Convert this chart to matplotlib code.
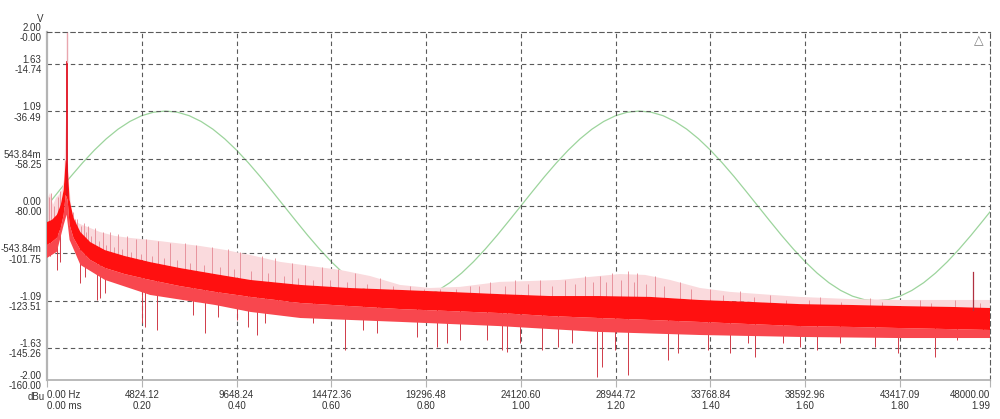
import numpy as np
import matplotlib.pyplot as plt

plt.rcParams['font.family'] = ['Liberation Sans', 'DejaVu Sans']

# ---- axis scales (as shown on the analyser) ----
hz_ticks = [0.0, 4824.12, 9648.24, 14472.36, 19296.48, 24120.60,
            28944.72, 33768.84, 38592.96, 43417.09, 48000.00]
hz_labels = ['0.00 Hz', '4824.12', '9648.24', '14472.36', '19296.48', '24120.60',
             '28944.72', '33768.84', '38592.96', '43417.09', '48000.00']
ms_labels = ['0.00 ms', '0.20', '0.40', '0.60', '0.80', '1.00',
             '1.20', '1.40', '1.60', '1.80', '1.99']

dbu_ticks = [0.0, -14.74, -36.49, -58.25, -80.0, -101.75, -123.51, -145.26, -160.0]
v_labels = ['2.00', '1.63', '1.09', '543.84m', '0.00', '-543.84m', '-1.09', '-1.63', '-2.00']
dbu_labels = ['-0.00', '-14.74', '-36.49', '-58.25', '-80.00', '-101.75', '-123.51', '-145.26', '-160.00']

# ---- time domain trace (green, V vs ms), read every 0.025 ms ----
sine_ms = [0.000, 0.025, 0.050, 0.075, 0.100, 0.125, 0.150, 0.175, 0.200, 0.225,
           0.250, 0.275, 0.300, 0.325, 0.350, 0.375, 0.400, 0.425, 0.450, 0.475,
           0.500, 0.525, 0.550, 0.575, 0.600, 0.625, 0.650, 0.675, 0.700, 0.725,
           0.750, 0.775, 0.800, 0.825, 0.850, 0.875, 0.900, 0.925, 0.950, 0.975,
           1.000, 1.025, 1.050, 1.075, 1.100, 1.125, 1.150, 1.175, 1.200, 1.225,
           1.250, 1.275, 1.300, 1.325, 1.350, 1.375, 1.400, 1.425, 1.450, 1.475,
           1.500, 1.525, 1.550, 1.575, 1.600, 1.625, 1.650, 1.675, 1.700, 1.725,
           1.750, 1.775, 1.800, 1.825, 1.850, 1.875, 1.900, 1.925, 1.950, 1.975,
           1.990]
sine_v = [0.000, 0.170, 0.337, 0.495, 0.641, 0.771, 0.882, 0.971, 1.037, 1.077,
          1.090, 1.077, 1.037, 0.971, 0.882, 0.771, 0.641, 0.495, 0.337, 0.170,
          0.000, -0.170, -0.337, -0.495, -0.641, -0.771, -0.882, -0.971, -1.037, -1.077,
          -1.090, -1.077, -1.037, -0.971, -0.882, -0.771, -0.641, -0.495, -0.337, -0.170,
          0.000, 0.170, 0.337, 0.495, 0.641, 0.771, 0.882, 0.971, 1.037, 1.077,
          1.090, 1.077, 1.037, 0.971, 0.882, 0.771, 0.641, 0.495, 0.337, 0.170,
          0.000, -0.170, -0.337, -0.495, -0.641, -0.771, -0.882, -0.971, -1.037, -1.077,
          -1.090, -1.077, -1.037, -0.971, -0.882, -0.771, -0.641, -0.495, -0.337, -0.170,
          -0.068]

# ---- spectrum (red, dBu vs Hz) ----
core_hz = [0, 250, 500, 700, 850, 950, 1050, 1150, 1350, 1700, 2200, 2950, 3950,
           5250, 6750, 8550, 10350, 12900, 15400, 18000, 20500, 23000, 25600,
           28100, 30700, 33200, 35800, 38300, 40900, 43400, 46000, 48000]
core_top = [-87.4, -86.4, -84.1, -79.5, -72.6, -58.9, -61.1, -77.2, -85.5, -92.0,
            -96.6, -100.3, -103.0, -105.8, -108.5, -111.3, -114.0, -116.3, -117.7,
            -118.6, -119.5, -120.5, -121.4, -121.4, -121.8, -123.2, -124.1, -125.1,
            -125.5, -126.0, -126.4, -126.9]
core_bot = [-97.9, -96.6, -94.7, -90.1, -84.1, -74.9, -77.2, -88.7, -94.7, -100.2,
            -104.8, -108.5, -111.3, -114.0, -116.8, -119.5, -121.8, -124.6, -126.0,
            -127.4, -128.3, -129.2, -130.6, -131.5, -132.4, -133.3, -134.3, -135.2,
            -135.6, -136.1, -136.6, -137.0]

low_hz = [0, 500, 850, 1000, 1150, 1700, 2950, 5250, 8550, 10350, 12900,
          18000, 23000, 28100, 33200, 38300, 43400, 48000]
low_dbu = [-103.9, -101.1, -88.7, -84.0, -95.6, -107.1, -114.0, -120.9, -125.5,
           -128.7, -131.5, -133.3, -135.2, -137.9, -139.3, -140.2, -140.7, -140.7]

up_hz = [0, 153, 305, 458, 611, 764, 865, 967, 1120, 1273, 1476, 1782, 2189, 2698,
         3461, 4225, 5243, 6515, 7788, 9060, 10333, 11860, 13387, 14914, 16441,
         17968, 19495, 21022, 23058, 24585, 26112, 27639, 29166, 30438, 31711,
         33238, 34765, 36292, 38328, 40873, 43418, 45963, 48000]
up_dbu = [-77.2, -74.0, -79.5, -76.3, -74.9, -72.6, -68.0, -40.5, -70.3, -82.8,
          -87.4, -88.7, -90.1, -92.0, -93.8, -94.7, -95.6, -97.0, -98.4, -100.2,
          -102.5, -105.7, -107.6, -109.4, -112.2, -116.3, -117.7, -117.2, -114.9,
          -114.5, -114.0, -112.6, -111.3, -111.7, -114.0, -117.7, -119.5, -120.5,
          -121.8, -122.8, -123.2, -123.2, -123.2]

spike_hz = [100, 200, 350, 560, 660, 1300, 1550, 1880, 2080, 2440, 2850, 3200, 3610,
            4070, 4530, 5040, 5650, 6260, 7020, 7580, 8390, 9200, 9820, 10940, 11600,
            12470, 13130, 13990, 14810, 15680, 16950, 18480, 20000, 21530, 22550,
            23820, 25090, 26370, 27380, 28150, 28760, 29580, 30040, 30950, 32220,
            33750, 35280, 36810, 39350, 41900, 44440, 46240,
            1420, 1720, 1980, 2260, 2640, 3020, 3400, 3820, 4300, 4780, 5330, 5950,
            6640, 7300, 8000, 8800, 9500, 10400, 11270, 12050, 12800, 13550, 14400,
            15250, 16300, 17600, 19200, 20800, 22000, 23300, 24500, 25700, 26900,
            27800, 28450, 29200, 29900, 30500, 31400, 32800, 34400, 36000, 37600,
            38800, 40400, 42500, 45000, 47500]
spike_top = [-76, -74, -80, -76, -73, -83, -86, -88, -89, -90, -92, -92, -93, -94,
             -95, -95, -96, -97, -97, -98, -99, -100, -101, -103, -104, -106, -107,
             -108, -109, -111, -113, -117, -118, -117, -115, -114, -114, -114, -112,
             -112, -111, -110, -111, -112, -115, -118, -119, -121, -122, -122.5, -123,
             -123,
             -86, -89, -92, -94, -96, -98, -99, -100, -101, -102, -103, -104,
             -105, -106, -107, -108, -109, -110, -111, -112, -113, -114, -114,
             -115, -116, -117, -118, -118, -117, -117, -116, -117, -116,
             -115, -115, -114, -115, -116, -117, -118, -121, -122, -123,
             -123, -124, -124, -124.5, -124.5]
spike_base = [-92, -92, -91, -90, -86, -88, -94, -97, -99, -101, -104, -105, -107,
              -108, -109, -110, -112, -113, -114, -115, -116, -117, -118, -119, -120,
              -120, -121, -121, -122, -122, -123, -123, -124, -124, -125, -125, -126,
              -126, -126, -127, -127, -127, -127, -127, -128, -128, -129, -130, -130,
              -131, -131, -132,
              -91, -96, -98, -100, -102, -104, -105, -106, -107, -108, -110, -111,
              -112, -113, -114, -115, -116, -117, -118, -119, -120, -120, -121,
              -121, -122, -122, -123, -124, -124, -125, -125, -126, -126,
              -126, -127, -127, -127, -127, -127, -128, -128, -129, -130,
              -130, -130, -131, -131, -132]

dip_hz = [153, 509, 658, 1680, 1934, 2545, 2698, 2952, 4836, 4988, 5599, 7431, 8042,
          8704, 9671, 10231, 10689, 11096, 11758, 13540, 15168, 16085, 16797, 18833,
          19851, 20360, 21022, 22396, 23160, 23414, 24076, 25196, 26010, 26723,
          27996, 28250, 28912, 29573, 31609, 32118, 33645, 34765, 35681, 36038,
          37463, 38328, 39193, 40364, 42145, 43316, 45200, 46319, 47642]
dip_bot = [-103.0, -109.4, -105.7, -115.4, -112.6, -123.2, -122.3, -120.0, -133.8,
           -135.6, -137.0, -130.1, -138.4, -131.0, -132.4, -135.6, -139.3, -133.8,
           -129.2, -133.8, -146.2, -137.0, -138.4, -140.2, -144.8, -143.0, -141.6,
           -141.6, -146.2, -147.1, -143.0, -146.2, -144.8, -143.0, -158.6, -154.0,
           -146.2, -157.7, -150.8, -147.6, -146.2, -147.6, -143.0, -149.4, -143.0,
           -144.8, -146.2, -143.0, -144.8, -147.6, -149.4, -141.6, -138.4]
dip_base = [-92, -92, -90, -96, -98, -104, -105, -106, -111, -112, -113, -115, -116,
            -117, -118, -118, -119, -119, -120, -121, -122, -122, -123, -123, -124,
            -124, -124, -125, -125, -125, -126, -126, -126, -127, -127, -127, -127,
            -127, -127, -128, -128, -129, -129, -129, -130, -130, -130, -131, -131,
            -131, -132, -132, -132]

fund_hz = 1000
fund_dbu = -14.0
harm_hz = 47135
harm_dbu = -110.3

grid_col = '#5a5a5a'
axis_col = '#b4b4b4'

fig = plt.figure(figsize=(10, 4.19), dpi=100)
rect = [0.047, 0.093, 0.943, 0.831]

# time domain axes underneath
ax_t = fig.add_axes(rect)
ax_t.plot(sine_ms, sine_v, color='#9cd49c', lw=0.9)
ax_t.set_xlim(0, 1.99)
ax_t.set_ylim(-2, 2)
ax_t.axis('off')

ax = fig.add_axes(rect)
ax.patch.set_visible(False)
ax_t.set_zorder(0)
ax.set_zorder(1)

# haze of spikes above the noise floor
ax.fill(list(up_hz) + core_hz[::-1], list(up_dbu) + core_top[::-1],
        color='#fadadd', lw=0, zorder=2)
ax.vlines(spike_hz, spike_base, spike_top, color='#e58893', lw=0.6, zorder=3)
ax.vlines(dip_hz, dip_base, dip_bot, color='#d03a48', lw=0.7, zorder=3)
# lower fringe and dense core
ax.fill(list(core_hz) + low_hz[::-1], list(core_bot) + low_dbu[::-1],
        color='#f8474e', lw=0, zorder=4)
ax.fill(list(core_hz) + core_hz[::-1], list(core_top) + core_bot[::-1],
        color='#ff1010', lw=0, zorder=5)
# fundamental and high harmonic
ax.plot([fund_hz, fund_hz], [-75, fund_dbu], color='#e01020', lw=1.3, zorder=6)
ax.plot([fund_hz, fund_hz], [fund_dbu, -0.5], color='#e9a6ae', lw=1.0, zorder=6)
ax.plot([harm_hz, harm_hz], [-128, harm_dbu], color='#b03040', lw=0.9, zorder=6)

ax.set_xlim(0, 48000)
ax.set_ylim(-160, 0)

# dashed grid
for h in hz_ticks[1:-1]:
    ax.axvline(h, color=grid_col, lw=0.8, ls=(0, (4, 3)), zorder=1)
for d in dbu_ticks[1:-1]:
    ax.axhline(d, color=grid_col, lw=0.8, ls=(0, (4, 3)), zorder=1)

for s in ['top', 'right']:
    ax.spines[s].set_color(grid_col)
    ax.spines[s].set_linewidth(0.8)
    ax.spines[s].set_linestyle((0, (4, 3)))
ax.spines['left'].set_color(axis_col)
ax.spines['left'].set_linewidth(1.6)
ax.spines['bottom'].set_color(axis_col)
ax.spines['bottom'].set_linewidth(1.3)

ax.set_xticks(hz_ticks)
ax.set_xticklabels([a + '\n' + b for a, b in zip(hz_labels, ms_labels)],
                   fontsize=7, color='#333333', linespacing=1.15)
ax.tick_params(axis='x', length=5, color=axis_col, pad=2)
xl = ax.get_xticklabels()
xl[0].set_ha('left')
xl[-1].set_ha('right')

ax.set_yticks(dbu_ticks)
ax.set_yticklabels([a + '\n' + b for a, b in zip(v_labels, dbu_labels)],
                   fontsize=7, color='#333333', linespacing=1.05)
ax.tick_params(axis='y', length=0, pad=4)

fig.text(0.040, 0.955, 'V', fontsize=7, color='#333333', ha='center', va='center')
fig.text(0.045, 0.052, 'dBu', fontsize=7, color='#333333', ha='right', va='center')
fig.text(0.979, 0.902, '\u25b3', fontsize=9, color='#808080', ha='center', va='center')

plt.savefig('out.png', dpi=100)
